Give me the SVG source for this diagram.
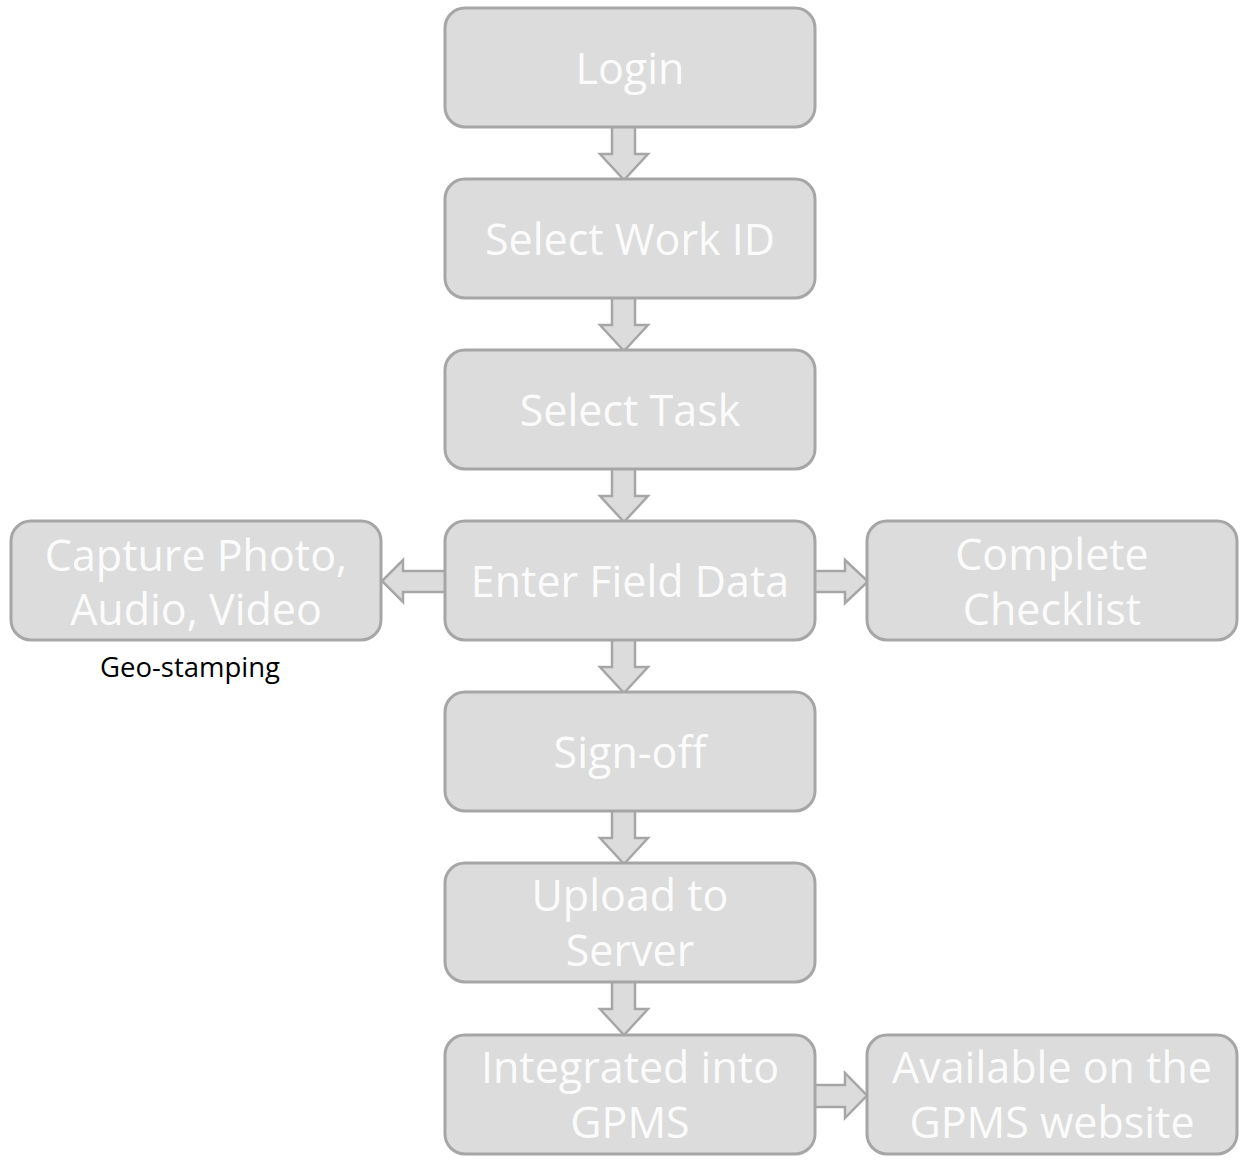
<svg xmlns="http://www.w3.org/2000/svg" width="1243" height="1163" viewBox="0 0 1243 1163">
<style>
.box{fill:#dcdcdc;stroke:#a6a6a6;stroke-width:3}
.arr{fill:#dcdcdc;stroke:#a6a6a6;stroke-width:2.5;stroke-linejoin:miter}
.t{font-family:"Open Sans","Noto Sans","Liberation Sans",sans-serif;font-size:43px;fill:#fbfbfb;text-anchor:middle}
.cap{font-family:"Open Sans","Noto Sans","Liberation Sans",sans-serif;font-size:27.5px;fill:#000;text-anchor:middle}
</style>
<rect width="1243" height="1163" fill="#ffffff"/>
<g id="connectors">
<polygon class="arr" points="612,126 635,126 635,154 648,154 624,180 600,154 612,154"/>
<polygon class="arr" points="612,297 635,297 635,325 648,325 624,351 600,325 612,325"/>
<polygon class="arr" points="612,468 635,468 635,496 648,496 624,522 600,496 612,496"/>
<polygon class="arr" points="612,639 635,639 635,667 648,667 624,693 600,667 612,667"/>
<polygon class="arr" points="612,810 635,810 635,838 648,838 624,864 600,838 612,838"/>
<polygon class="arr" points="612,981 635,981 635,1009 648,1009 624,1035 600,1009 612,1009"/>
<polygon class="arr" points="446,571 403,571 403,560 382,581 403,602 403,592 446,592"/>
<polygon class="arr" points="814,571 845,571 845,560 868,581.5 845,603 845,592 814,592"/>
<polygon class="arr" points="814,1085 845,1085 845,1073 867,1095.5 845,1118 845,1107 814,1107"/>
</g>
<g id="login"><rect class="box" x="445" y="8" width="370" height="119" rx="20"/><text class="t" x="630" y="84">Login</text></g>
<g id="select-work-id"><rect class="box" x="445" y="179" width="370" height="119" rx="20"/><text class="t" x="630" y="255">Select Work ID</text></g>
<g id="select-task"><rect class="box" x="445" y="350" width="370" height="119" rx="20"/><text class="t" x="630" y="426">Select Task</text></g>
<g id="enter-field-data"><rect class="box" x="445" y="521" width="370" height="119" rx="20"/><text class="t" x="630" y="597">Enter Field Data</text></g>
<g id="capture"><rect class="box" x="11" y="521" width="370" height="119" rx="20"/><text class="t" x="196" y="571">Capture Photo,</text><text class="t" x="196" y="625">Audio, Video</text></g>
<g id="geo-stamping"><text class="cap" x="190" y="677">Geo-stamping</text></g>
<g id="complete-checklist"><rect class="box" x="867" y="521" width="370" height="119" rx="20"/><text class="t" x="1052" y="570">Complete</text><text class="t" x="1052" y="625">Checklist</text></g>
<g id="sign-off"><rect class="box" x="445" y="692" width="370" height="119" rx="20"/><text class="t" x="630" y="768">Sign-off</text></g>
<g id="upload"><rect class="box" x="445" y="863" width="370" height="119" rx="20"/><text class="t" x="630" y="911">Upload to</text><text class="t" x="630" y="966">Server</text></g>
<g id="integrated"><rect class="box" x="445" y="1035" width="370" height="119" rx="20"/><text class="t" x="630" y="1083">Integrated into</text><text class="t" x="630" y="1138">GPMS</text></g>
<g id="available"><rect class="box" x="867" y="1035" width="370" height="119" rx="20"/><text class="t" x="1052" y="1083">Available on the</text><text class="t" x="1052" y="1138">GPMS website</text></g>
</svg>
